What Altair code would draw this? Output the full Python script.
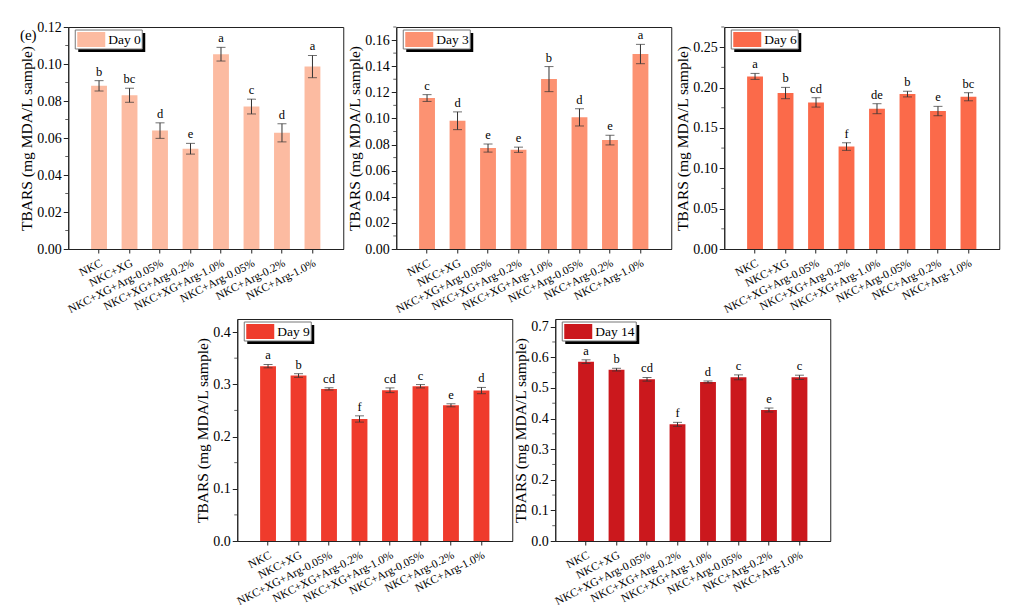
import altair as alt
import pandas as pd

categories = ["NKC", "NKC+XG", "NKC+XG+Arg-0.05%", "NKC+XG+Arg-0.2%",
              "NKC+XG+Arg-1.0%", "NKC+Arg-0.05%", "NKC+Arg-0.2%", "NKC+Arg-1.0%"]

day0_values = [0.0882, 0.0831, 0.0640, 0.0542, 0.1053, 0.0770, 0.0628, 0.0986]
day0_errors = [0.0028, 0.0038, 0.0042, 0.0029, 0.0037, 0.0040, 0.0049, 0.0060]
day0_letters = ["b", "bc", "d", "e", "a", "c", "d", "a"]
day0_major = [0.00, 0.02, 0.04, 0.06, 0.08, 0.10, 0.12]
day0_minor = [0.01, 0.03, 0.05, 0.07, 0.09, 0.11]

day3_values = [0.1156, 0.0982, 0.0773, 0.0760, 0.1301, 0.1008, 0.0834, 0.1493]
day3_errors = [0.0026, 0.0068, 0.0031, 0.0020, 0.0096, 0.0066, 0.0037, 0.0074]
day3_letters = ["c", "d", "e", "e", "b", "d", "e", "a"]
day3_major = [0.00, 0.02, 0.04, 0.06, 0.08, 0.10, 0.12, 0.14, 0.16]
day3_minor = [0.01, 0.03, 0.05, 0.07, 0.09, 0.11, 0.13, 0.15, 0.17]

day6_values = [0.2138, 0.1932, 0.1816, 0.1269, 0.1738, 0.1919, 0.1709, 0.1886]
day6_errors = [0.0037, 0.0070, 0.0058, 0.0047, 0.0062, 0.0035, 0.0058, 0.0050]
day6_letters = ["a", "b", "cd", "f", "de", "b", "e", "bc"]
day6_major = [0.00, 0.05, 0.10, 0.15, 0.20, 0.25]
day6_minor = [0.025, 0.075, 0.125, 0.175, 0.225, 0.275]

day9_values = [0.3347, 0.3168, 0.2912, 0.2336, 0.2886, 0.2963, 0.2598, 0.2880]
day9_errors = [0.0032, 0.0035, 0.0022, 0.0060, 0.0045, 0.0032, 0.0029, 0.0060]
day9_letters = ["a", "b", "cd", "f", "cd", "c", "e", "d"]
day9_major = [0.0, 0.1, 0.2, 0.3, 0.4]
day9_minor = [0.05, 0.15, 0.25, 0.35]

day14_values = [0.5857, 0.5596, 0.5280, 0.3810, 0.5193, 0.5345, 0.4278, 0.5345]
day14_errors = [0.0060, 0.0044, 0.0060, 0.0065, 0.0033, 0.0080, 0.0065, 0.0070]
day14_letters = ["a", "b", "cd", "f", "d", "c", "e", "c"]
day14_major = [0.0, 0.1, 0.2, 0.3, 0.4, 0.5, 0.6, 0.7]
day14_minor = [0.05, 0.15, 0.25, 0.35, 0.45, 0.55, 0.65]

FONT = "Liberation Serif"
W, H = 275, 222
YTITLE = "TBARS (mg MDA/L sample)"


def panel(day, values, errors, letters, color, top, major, minor, fmt, tag=None):
    df = pd.DataFrame({"category": categories, "value": values,
                       "err": errors, "letter": letters})
    base = alt.Chart(df).transform_calculate(
        lo="datum.value - datum.err", hi="datum.value + datum.err")
    xs = alt.X("category:N", sort=categories, title=None,
               scale=alt.Scale(paddingInner=0.48, paddingOuter=0.75),
               axis=alt.Axis(labelAngle=333, labelFontSize=11.5, labelFont=FONT,
                             tickSize=4, labelPadding=4, labelColor="black"))
    yscale = alt.Scale(domain=[0, top], nice=False, zero=True)
    yaxis = alt.Axis(values=major, format=fmt, labelOverlap=False,
                     labelFlush=False, tickSize=5,
                     labelFontSize=14, titleFontSize=15.5, labelPadding=2,
                     titlePadding=2, titleFontWeight="normal")

    def Y(field):
        return alt.Y(field, title=YTITLE, scale=yscale, axis=yaxis)

    bars = base.mark_bar(color=color).encode(x=xs, y=Y("value:Q"))
    rule = base.mark_rule(color="#333", strokeWidth=1).encode(
        x=xs, y=Y("lo:Q"), y2="hi:Q")
    cap_lo = base.mark_tick(color="#333", size=9, thickness=1).encode(x=xs, y=Y("lo:Q"))
    cap_hi = base.mark_tick(color="#333", size=9, thickness=1).encode(x=xs, y=Y("hi:Q"))
    text = base.mark_text(font=FONT, fontSize=12.5, baseline="bottom", dy=-2,
                          color="black").encode(x=xs, y=Y("hi:Q"), text="letter:N")

    mdf = pd.DataFrame({"tick": minor})
    minor_ticks = alt.Chart(mdf).mark_tick(color="#222", size=3, thickness=1,
                                           orient="horizontal").encode(
        x=alt.value(-1.5), y=Y("tick:Q"))

    lab = pd.DataFrame({"label": [day]})
    wbox = 67 + 7 * (len(day) - 5)
    lbase = alt.Chart(lab)
    shadow = lbase.mark_rect(color="black").encode(
        x=alt.value(10), x2=alt.value(10 + wbox), y=alt.value(6), y2=alt.value(25))
    frame = lbase.mark_rect(fill="white", stroke="#777", strokeWidth=1).encode(
        x=alt.value(7), x2=alt.value(7 + wbox), y=alt.value(3), y2=alt.value(22))
    swatch = lbase.mark_rect(color=color).encode(
        x=alt.value(9), x2=alt.value(37), y=alt.value(5), y2=alt.value(20))
    ltext = lbase.mark_text(font=FONT, fontSize=13.5, align="left", baseline="middle",
                            color="black").encode(
        x=alt.value(40), y=alt.value(13), text="label:N")
    layers = [bars, rule, cap_lo, cap_hi, text, minor_ticks, shadow, frame, swatch, ltext]
    if tag:
        layers.append(lbase.mark_text(font=FONT, fontSize=15, color="black",
                                      text=tag).encode(x=alt.value(-40), y=alt.value(8)))
    return alt.layer(*layers).properties(width=W, height=H)


p0 = panel("Day 0", day0_values, day0_errors, day0_letters, "#fcbba1", 0.12, day0_major, day0_minor, ".2f", tag="(e)")
p3 = panel("Day 3", day3_values, day3_errors, day3_letters, "#fc9272", 0.17, day3_major, day3_minor, ".2f")
p6 = panel("Day 6", day6_values, day6_errors, day6_letters, "#fb6a4a", 0.275, day6_major, day6_minor, ".2f")
p9 = panel("Day 9", day9_values, day9_errors, day9_letters, "#ef3b2c", 0.425, day9_major, day9_minor, ".1f")
p14 = panel("Day 14", day14_values, day14_errors, day14_letters, "#cb181d", 0.725, day14_major, day14_minor, ".1f")

top_row = alt.hconcat(p0, p3, p6, spacing=3)
bottom_row = alt.hconcat(p9, p14, spacing=0)

chart = alt.vconcat(top_row, bottom_row, spacing=2, center=True).properties(
    padding={"left": 11, "top": 11, "right": 5, "bottom": 0}
).configure_view(stroke="#222", strokeWidth=1).configure_axis(
    grid=False, labelFont=FONT, titleFont=FONT, labelColor="black", titleColor="black",
    domainColor="#222", tickColor="#222"
).configure_axisY(labelOverlap=False)

chart.save("out.html", embed_options={"renderer": "svg", "actions": False})
